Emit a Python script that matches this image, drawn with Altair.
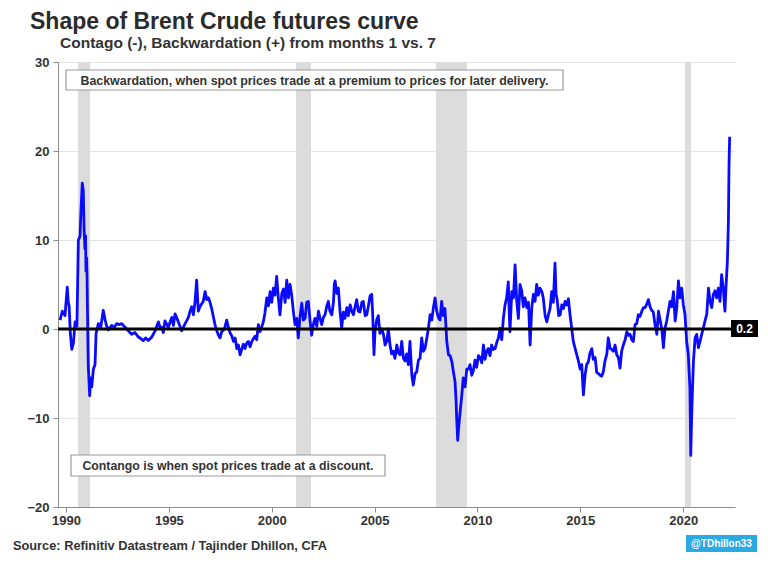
import altair as alt
import pandas as pd

# ---------------- data ----------------
years = [
    1989.71, 1989.82, 1989.95, 1990.06, 1990.11, 1990.15, 1990.21, 1990.28, 1990.36, 1990.44,
    1990.53, 1990.60, 1990.68, 1990.73, 1990.79, 1990.84, 1990.88, 1990.92, 1990.95, 1990.97,
    1991.00, 1991.02, 1991.05, 1991.08, 1991.15, 1991.20, 1991.25, 1991.33, 1991.41, 1991.46,
    1991.57, 1991.69, 1991.81, 1991.90, 1991.98, 1992.06, 1992.22, 1992.35, 1992.46, 1992.59,
    1992.71, 1992.87, 1993.03, 1993.19, 1993.35, 1993.52, 1993.65, 1993.76, 1993.87, 1994.00,
    1994.17, 1994.33, 1994.49, 1994.57, 1994.65, 1994.73, 1994.81, 1994.97, 1995.14, 1995.22,
    1995.30, 1995.46, 1995.62, 1995.79, 1995.95, 1996.03, 1996.11, 1996.19, 1996.27, 1996.35,
    1996.43, 1996.51, 1996.59, 1996.67, 1996.76, 1996.84, 1996.92, 1997.00, 1997.08, 1997.16,
    1997.24, 1997.33, 1997.41, 1997.49, 1997.57, 1997.70, 1997.81, 1997.89, 1997.97, 1998.06,
    1998.14, 1998.22, 1998.30, 1998.38, 1998.46, 1998.54, 1998.62, 1998.70, 1998.78, 1998.86,
    1998.95, 1999.03, 1999.11, 1999.19, 1999.27, 1999.35, 1999.43, 1999.51, 1999.59, 1999.67,
    1999.76, 1999.84, 1999.92, 2000.00, 2000.08, 2000.16, 2000.24, 2000.32, 2000.40, 2000.49,
    2000.57, 2000.65, 2000.73, 2000.81, 2000.89, 2000.97, 2001.05, 2001.13, 2001.22, 2001.29,
    2001.38, 2001.46, 2001.54, 2001.62, 2001.70, 2001.78, 2001.86, 2001.94, 2002.02, 2002.10,
    2002.19, 2002.27, 2002.35, 2002.43, 2002.51, 2002.59, 2002.67, 2002.75, 2002.83, 2002.92,
    2003.00, 2003.04, 2003.08, 2003.16, 2003.24, 2003.32, 2003.40, 2003.48, 2003.56, 2003.65,
    2003.72, 2003.81, 2003.89, 2003.97, 2004.05, 2004.13, 2004.21, 2004.29, 2004.38, 2004.45,
    2004.54, 2004.62, 2004.70, 2004.78, 2004.86, 2004.91, 2004.97, 2005.02, 2005.10, 2005.18,
    2005.26, 2005.35, 2005.43, 2005.51, 2005.59, 2005.67, 2005.75, 2005.83, 2005.91, 2005.99,
    2006.08, 2006.16, 2006.24, 2006.32, 2006.40, 2006.48, 2006.56, 2006.64, 2006.72, 2006.81,
    2006.88, 2006.97, 2007.05, 2007.13, 2007.21, 2007.29, 2007.37, 2007.45, 2007.54, 2007.61,
    2007.70, 2007.78, 2007.86, 2007.94, 2008.02, 2008.10, 2008.18, 2008.26, 2008.34, 2008.42,
    2008.51, 2008.59, 2008.67, 2008.75, 2008.83, 2008.91, 2008.96, 2008.99, 2009.04, 2009.09,
    2009.15, 2009.24, 2009.31, 2009.40, 2009.48, 2009.56, 2009.64, 2009.72, 2009.80, 2009.88,
    2009.96, 2010.05, 2010.13, 2010.21, 2010.29, 2010.37, 2010.45, 2010.53, 2010.61, 2010.69,
    2010.77, 2010.86, 2010.94, 2011.02, 2011.10, 2011.18, 2011.26, 2011.34, 2011.42, 2011.50,
    2011.55, 2011.58, 2011.67, 2011.75, 2011.83, 2011.91, 2011.99, 2012.07, 2012.15, 2012.23,
    2012.31, 2012.40, 2012.48, 2012.56, 2012.64, 2012.72, 2012.80, 2012.88, 2012.96, 2013.04,
    2013.13, 2013.20, 2013.29, 2013.37, 2013.45, 2013.53, 2013.61, 2013.69, 2013.77, 2013.82,
    2013.88, 2013.95, 2014.02, 2014.10, 2014.18, 2014.26, 2014.34, 2014.42, 2014.50, 2014.58,
    2014.66, 2014.75, 2014.83, 2014.91, 2014.99, 2015.07, 2015.15, 2015.23, 2015.31, 2015.39,
    2015.47, 2015.56, 2015.63, 2015.72, 2015.80, 2015.88, 2015.96, 2016.04, 2016.12, 2016.20,
    2016.29, 2016.36, 2016.45, 2016.53, 2016.61, 2016.69, 2016.77, 2016.85, 2016.93, 2017.01,
    2017.09, 2017.18, 2017.26, 2017.34, 2017.42, 2017.50, 2017.58, 2017.66, 2017.74, 2017.82,
    2017.90, 2017.99, 2018.07, 2018.15, 2018.23, 2018.31, 2018.39, 2018.47, 2018.55, 2018.63,
    2018.72, 2018.80, 2018.88, 2018.96, 2019.04, 2019.12, 2019.20, 2019.28, 2019.36, 2019.44,
    2019.53, 2019.61, 2019.69, 2019.77, 2019.85, 2019.93, 2020.01, 2020.09, 2020.17, 2020.25,
    2020.33, 2020.37, 2020.40, 2020.43, 2020.50, 2020.58, 2020.66, 2020.74, 2020.82, 2020.90,
    2020.98, 2021.06, 2021.15, 2021.23, 2021.31, 2021.39, 2021.47, 2021.55, 2021.63, 2021.71,
    2021.79, 2021.87, 2021.95, 2022.03, 2022.08, 2022.15, 2022.20, 2022.23, 2022.26,
]
spread = [
    1.0, 2.0, 1.5, 4.7, 3.0, 2.6, -0.5, -2.3, -1.6, 0.8,
    0.3, 10.0, 10.4, 13.5, 16.4, 15.5, 11.0, 9.0, 10.5, 6.5,
    8.0, 6.2, 1.0, -4.0, -7.5, -5.5, -6.5, -4.5, -4.0, -0.5,
    0.6, 0.2, 2.1, 1.0, 0.3, -0.1, 0.4, 0.2, 0.6, 0.5,
    0.6, 0.2, -0.2, -0.6, -0.4, -0.9, -1.1, -1.3, -1.0, -1.3,
    -0.9, -0.2, 0.8, 0.2, 0.2, -0.4, 0.9, 0.2, 1.3, 0.4,
    1.7, 0.8, -0.2, 0.6, 1.3, 2.0, 2.5, 1.6, 3.0, 5.5,
    2.0, 2.5, 2.8, 3.1, 4.2, 3.3, 3.5, 3.0, 2.3, 1.4,
    0.5, -0.2, -0.7, -1.0, -0.3, 0.0, 1.0, 0.2, -0.4, -0.8,
    -1.4, -1.0, -2.2, -1.8, -2.9, -2.3, -1.7, -2.2, -1.6, -1.4,
    -2.0, -1.4, -1.1, -0.8, -1.2, 0.5, -0.3, 0.2, 0.8, 1.8,
    3.5, 2.6, 4.2, 3.0, 4.6, 3.8, 5.9, 3.5, 1.6, 4.0,
    4.5, 3.0, 5.5, 3.5, 5.0, 3.8, 2.0, 0.5, 1.2, -1.0,
    1.5, 2.9, 1.0, 1.2, 3.0, 3.1, 1.0, -0.7, 0.5, 1.2,
    0.3, 2.0, 1.2, 0.5, 1.3, 1.6, 2.5, 3.1, 2.0, 1.6,
    3.0, 5.0, 5.4, 4.0, 4.6, 2.0, 0.1, 1.9, 1.2, 2.4,
    1.5, 2.7, 2.0, 1.6, 2.5, 3.3, 2.0, 1.9, 3.0, 3.1,
    1.5, 1.6, 2.6, 3.7, 3.9, 1.5, -2.9, -0.3, 1.0, 1.5,
    -0.5, 0.0, -0.6, -1.8, -1.4, 0.0, -1.8, -2.8, -2.5, -3.3,
    -1.8, -2.7, -2.9, -1.4, -3.3, -3.6, -2.8, -4.0, -1.4, -5.2,
    -6.3, -5.0, -4.8, -3.5, -3.3, -1.0, -2.5, -2.2, -1.0, 0.0,
    1.6, 1.0, 2.4, 3.5, 2.0, 1.3, 1.0, 3.1, 1.5, 2.3,
    -1.4, -2.9, -3.0, -3.6, -4.8, -5.9, -8.0, -10.0, -12.5, -11.0,
    -9.5, -7.4, -5.5, -6.5, -4.5, -4.5, -4.0, -5.2, -4.7, -3.5,
    -4.3, -3.0, -3.2, -3.8, -1.8, -3.4, -2.5, -2.2, -3.0, -1.8,
    -2.3, -2.2, -1.5, -1.0, 0.1, -1.2, 1.2, 2.7, 3.5, 5.3,
    1.5, -0.3, 4.2, 3.5, 7.2, 3.1, 1.2, 5.0, 4.3, 2.5,
    3.5, 2.4, 3.0, -1.8, 2.4, 3.9, 3.1, 5.0, 3.8, 4.6,
    4.2, 3.5, 1.5, 0.8, 1.6, 2.3, 4.2, 3.0, 7.4, 4.0,
    3.2, 1.5, 1.6, 2.7, 2.3, 3.1, 2.7, 3.4, 1.6, 0.1,
    -1.4, -2.2, -2.9, -3.6, -4.5, -4.0, -7.4, -5.2, -4.0, -3.7,
    -2.7, -2.2, -3.4, -3.2, -4.9, -5.0, -5.2, -5.3, -4.8, -3.6,
    -2.8, -1.0, -2.2, -2.3, -2.5, -1.8, -2.9, -3.2, -4.4, -2.5,
    -1.8, -1.2, -0.3, -0.7, -0.6, -1.2, -1.4, 0.5, 0.6, 1.6,
    1.4, 2.0, 2.4, 2.4, 2.8, 3.3, 2.5, 2.1, 1.9, 0.5,
    -0.6, 2.0, 1.0, 0.0, -2.1, 0.1, 0.9, 2.0, 3.1, 2.5,
    4.2, 0.9, 2.4, 5.4, 3.5, 4.6, 2.7, 1.6, -1.4, -2.9,
    -6.7, -14.2, -11.0, -8.5, -3.6, -1.0, -0.6, -2.1, -1.4, -0.6,
    0.1, 0.9, 1.7, 4.6, 3.1, 2.4, 3.9, 4.3, 3.5, 4.6,
    3.1, 6.1, 4.6, 2.0, 4.6, 7.6, 12.1, 18.5, 21.6,
]
assert len(years) == len(spread)

rec_start = [1990.58, 2001.18, 2007.99, 2020.09]
rec_end = [1991.17, 2001.91, 2009.49, 2020.38]

x_ticks = [1990, 1995, 2000, 2005, 2010, 2015, 2020]
y_ticks = [-20, -10, 0, 10, 20, 30]

title_text = ["Shape of Brent Crude futures curve"]
subtitle_text = ["Contago (-), Backwardation (+) from months 1 vs. 7"]
note_top = ["Backwardation, when spot prices trade at a premium to prices for later delivery."]
note_bottom = ["Contango is when spot prices trade at a discount."]
source_text = ["Source: Refinitiv Datastream / Tajinder Dhillon, CFA"]
badge_text = ["@TDhillon33"]
end_label = ["0.2"]
zero_level = [0]

# ---------------- chart ----------------
W, H = 677, 445
FONT = "Liberation Sans"
TXT = "#333333"

df = pd.DataFrame({"year": years, "spread": spread})
rec = pd.DataFrame({"start": rec_start, "end": rec_end})

xscale = alt.Scale(domain=[1989.61, 2022.52], nice=False, zero=False)
yscale = alt.Scale(domain=[-20, 30], nice=False, zero=False)

xaxis = alt.Axis(values=x_ticks, format="d", title=None, grid=False,
                 labelFont=FONT, labelFontSize=13, labelFontWeight="bold",
                 labelColor=TXT, domainColor="#8c8c8c", tickColor="#8c8c8c",
                 tickSize=5, labelPadding=2, labelFlush=False)
yaxis = alt.Axis(values=y_ticks, title=None, grid=True, gridColor="#e4e4e4",
                 labelFont=FONT, labelFontSize=13, labelFontWeight="bold",
                 labelColor=TXT, domainColor="#8c8c8c", tickColor="#8c8c8c",
                 tickSize=5, labelPadding=4)

recess = alt.Chart(rec).mark_rect(color="#dcdcdc").encode(
    x=alt.X("start:Q", scale=xscale, axis=xaxis),
    x2="end:Q",
    y=alt.value(0),
    y2=alt.value(H),
)

line = alt.Chart(df).mark_line(color="#0a0aff", strokeWidth=2.8, strokeJoin="round").encode(
    x=alt.X("year:Q", scale=xscale, axis=xaxis),
    y=alt.Y("spread:Q", scale=yscale, axis=yaxis),
)

zero_df = pd.DataFrame({"z": zero_level})
zero_rule = alt.Chart(zero_df).mark_rule(color="black", strokeWidth=3).encode(
    y=alt.Y("z:Q", scale=yscale, axis=yaxis),
    x=alt.value(0),
    x2=alt.value(673),
)

end_df = pd.DataFrame({"t": end_label, "z": zero_level})
end_box = alt.Chart(end_df).mark_rect(color="black").encode(
    x=alt.value(673), x2=alt.value(700), y=alt.value(258), y2=alt.value(275)
)
end_txt = alt.Chart(end_df).mark_text(
    font=FONT, fontSize=12, fontWeight="bold", color="white", align="center", baseline="middle"
).encode(x=alt.value(686.5), y=alt.value(267), text="t:N")

top_df = pd.DataFrame({"t": note_top})
top_box = alt.Chart(top_df).mark_rect(fill="white", stroke="#9a9a9a", strokeWidth=1.2).encode(
    x=alt.value(8), x2=alt.value(505), y=alt.value(8), y2=alt.value(28)
)
top_txt = alt.Chart(top_df).mark_text(
    font=FONT, fontSize=12.4, fontWeight="bold", color=TXT, align="center", baseline="middle"
).encode(x=alt.value(256.5), y=alt.value(18.5), text="t:N")

bot_df = pd.DataFrame({"t": note_bottom})
bot_box = alt.Chart(bot_df).mark_rect(fill="white", stroke="#9a9a9a", strokeWidth=1.2).encode(
    x=alt.value(13), x2=alt.value(327), y=alt.value(393), y2=alt.value(414)
)
bot_txt = alt.Chart(bot_df).mark_text(
    font=FONT, fontSize=12.3, fontWeight="bold", color=TXT, align="center", baseline="middle"
).encode(x=alt.value(170), y=alt.value(404), text="t:N")

title_df = pd.DataFrame({"t": title_text})
title = alt.Chart(title_df).mark_text(
    font=FONT, fontSize=23, fontWeight="bold", color="#2b2b2b", align="left", baseline="alphabetic"
).encode(x=alt.value(-28), y=alt.value(-33), text="t:N")

sub_df = pd.DataFrame({"t": subtitle_text})
subtitle = alt.Chart(sub_df).mark_text(
    font=FONT, fontSize=15.5, fontWeight="bold", color=TXT, align="left", baseline="alphabetic"
).encode(x=alt.value(2), y=alt.value(-14), text="t:N")

src_df = pd.DataFrame({"t": source_text})
source = alt.Chart(src_df).mark_text(
    font=FONT, fontSize=12.8, fontWeight="bold", color=TXT, align="right", baseline="alphabetic"
).encode(x=alt.value(269), y=alt.value(488), text="t:N")

badge_df = pd.DataFrame({"t": badge_text})
badge_box = alt.Chart(badge_df).mark_rect(color="#2aa9e3").encode(
    x=alt.value(628), x2=alt.value(699), y=alt.value(473), y2=alt.value(490)
)
badge_txt = alt.Chart(badge_df).mark_text(
    font=FONT, fontSize=10, fontWeight="bold", color="white", align="center", baseline="middle"
).encode(x=alt.value(663.5), y=alt.value(482), text="t:N")

chart = alt.layer(
    recess, line, zero_rule, end_box, end_txt,
    top_box, top_txt, bot_box, bot_txt,
    title, subtitle, source, badge_box, badge_txt,
).resolve_scale(x="shared", y="shared").properties(
    width=W, height=H,
    padding={"left": 50, "top": 54, "right": 25, "bottom": 52},
    autosize=alt.AutoSizeParams(type="none"),
    background="white",
).configure_view(stroke=None)

chart.save("out.html", embed_options={"renderer": "svg", "actions": False})
